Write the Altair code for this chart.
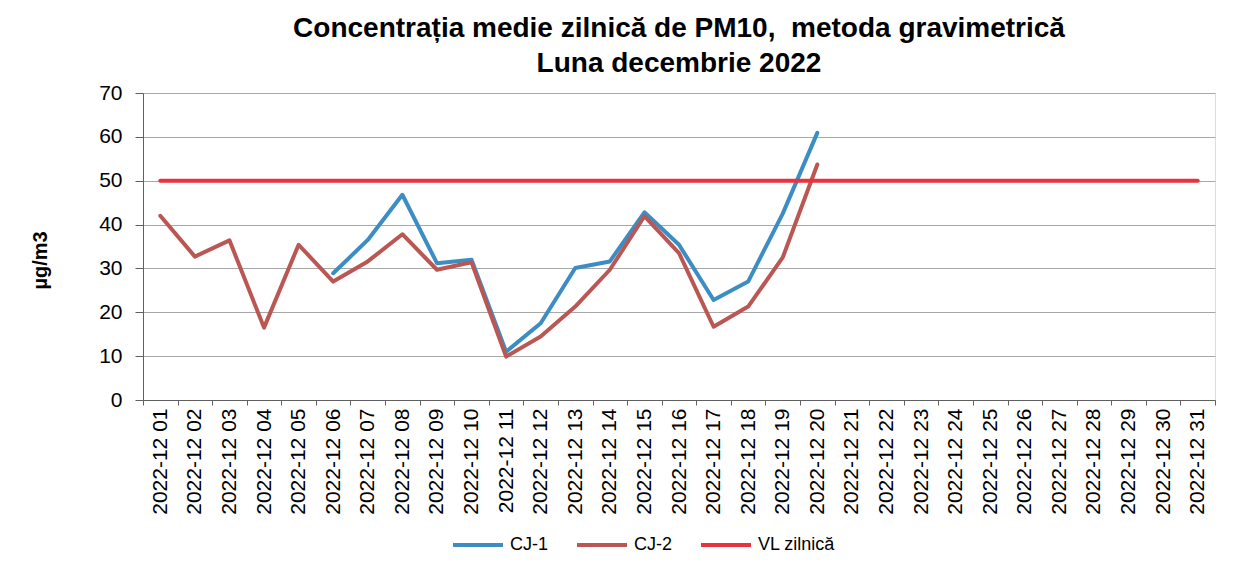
import altair as alt
import pandas as pd

days = [f"2022-12 {d:02d}" for d in range(1, 32)]

cj1_days = days[5:20]
cj1_vals = [28.9, 36.5, 46.8, 31.2, 32.0, 11.0, 17.5, 30.1, 31.6, 42.8, 35.4, 22.8, 27.0, 42.5, 60.9]

cj2_days = days[0:20]
cj2_vals = [42.0, 32.7, 36.4, 16.5, 35.4, 27.0, 31.6, 37.8, 29.7, 31.4, 9.9, 14.5, 21.3, 29.7, 41.9, 33.5, 16.7, 21.3, 32.5, 53.7]

vl_days = days
vl_vals = [50] * 31

series_names = ["CJ-1", "CJ-2", "VL zilnică"]
series_colors = ["#3C8DC4", "#BA5753", "#E8323E"]

rows = []
for name, dd, vv in [("CJ-1", cj1_days, cj1_vals), ("CJ-2", cj2_days, cj2_vals), ("VL zilnică", vl_days, vl_vals)]:
    for d, v in zip(dd, vv):
        rows.append({"zi": d, "valoare": v, "serie": name})
df = pd.DataFrame(rows)

font = "Liberation Sans"

chart = alt.Chart(df).mark_line(strokeWidth=4, strokeJoin="round", strokeCap="round").encode(
    x=alt.X("zi:O", scale=alt.Scale(type="band", domain=days, paddingInner=0, paddingOuter=0),
            bandPosition=0.5,
            axis=alt.Axis(title=None, labelAngle=270, labelFontSize=21, labelFont=font, labelColor="#000000",
                          tickBand="extent", tickSize=5, tickColor="#606060", domainColor="#606060",
                          labelPadding=3, grid=False, labelBaseline="middle", labelAlign="right")),
    y=alt.Y("valoare:Q", scale=alt.Scale(domain=[0, 70], nice=False),
            axis=alt.Axis(title="µg/m3", values=list(range(0, 80, 10)), labelFontSize=21, labelFont=font,
                          labelColor="#000000", tickSize=8, tickColor="#606060", domainColor="#606060",
                          labelPadding=13, gridColor="#A8A8A8", gridWidth=1,
                          titleFont=font, titleFontSize=20, titleFontWeight="bold", titleColor="#000000",
                          titlePadding=48, titleY=167)),
    color=alt.Color("serie:N", scale=alt.Scale(domain=series_names, range=series_colors),
                    legend=alt.Legend(title=None, orient="none", legendX=308, legendY=425, direction="horizontal",
                                      symbolType="stroke", symbolSize=2500, symbolStrokeWidth=4,
                                      labelFontSize=18, labelFont=font, labelColor="#000000",
                                      columnPadding=20, labelOffset=5)),
    order=alt.Order("zi:O"),
).properties(
    width=1072,
    height=307,
    title=alt.TitleParams(
        text=["Concentrația medie zilnică de PM10,\u00a0 metoda gravimetrică", "Luna decembrie 2022"],
        font=font, fontSize=28, fontWeight="bold", color="#000000", anchor="middle",
        lineHeight=35, offset=4),
    autosize=alt.AutoSizeParams(type="none"),
    padding={"left": 135, "top": 85, "right": 20, "bottom": 154},
).configure_view(stroke="#808080", strokeWidth=1).configure(background="#ffffff")

chart.save("out.html", embed_options={"renderer": "svg", "actions": False})
